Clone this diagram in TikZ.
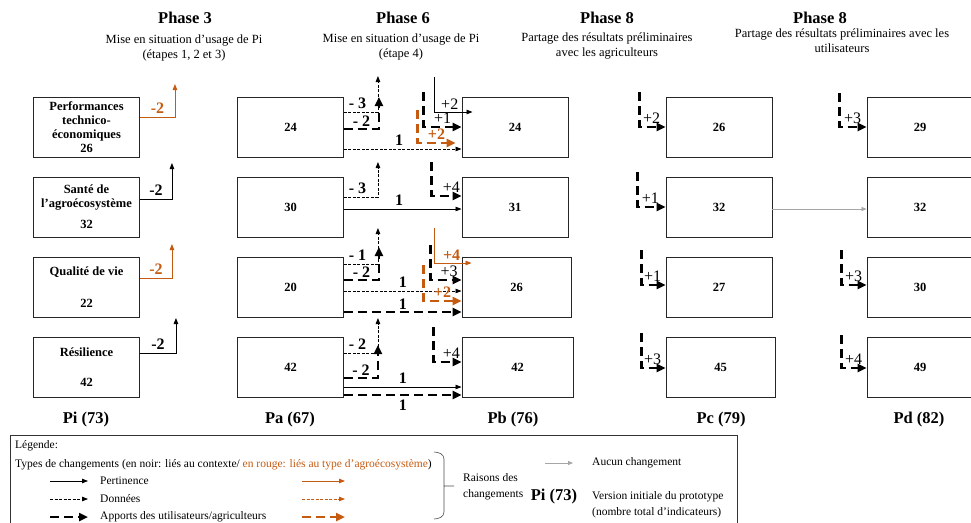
\documentclass[tikz,border=0pt]{standalone}
\usepackage{fontspec}
\setmainfont{Liberation Serif}
\usetikzlibrary{arrows.meta,positioning}
\definecolor{rougeAgro}{HTML}{C55A11}
\definecolor{grisAucun}{HTML}{A6A6A6}

\begin{document}
\begin{tikzpicture}[
  x=1pt,y=-1pt,
  indic/.style={draw=black!85,line width=0.9pt,minimum width=106pt,minimum height=60pt,inner sep=0pt,align=center,font=\fontsize{12.5}{14}\selectfont\bfseries},
  phase/.style={font=\fontsize{16.5}{19}\selectfont\bfseries},
  soustitre/.style={align=center,font=\fontsize{12.5}{15}\selectfont},
  version/.style={font=\fontsize{16.5}{19}\selectfont\bfseries},
  pert/.style={-{Triangle[length=6pt,width=4.5pt]},line width=0.8pt},
  donnees/.style={pert,dash pattern=on 3pt off 1.5pt},
  apport/.style={-{Triangle[length=9pt,width=8pt]},line width=2.8pt,dash pattern=on 9pt off 5pt},
  aucun/.style={-{Triangle[length=5pt,width=4pt]},line width=0.8pt,draw=grisAucun},
  moins/.style={font=\fontsize{16}{18}\selectfont\bfseries,inner sep=1pt,above=2pt},
  plus/.style={font=\fontsize{16}{18}\selectfont,inner sep=1pt,above=1pt},
  plusr/.style={plus,font=\fontsize{16}{18}\selectfont\bfseries},
  legende/.style={font=\fontsize{11.5}{16}\selectfont,anchor=west,inner sep=0pt}
]
\clip (0,0) rectangle (971,522);

% titres des phases
\node[phase] (ph3) at (185,18) {Phase 3};
\node[soustitre] (ph3t) at (184,48) {Mise en situation d’usage de Pi\\(étapes 1, 2 et 3)};
\node[phase] (ph6) at (403,18) {Phase 6};
\node[soustitre] (ph6t) at (401,47) {Mise en situation d’usage de Pi\\(étape 4)};
\node[phase] (ph8a) at (607,18) {Phase 8};
\node[soustitre] (ph8at) at (607,46) {Partage des résultats préliminaires\\avec les agriculteurs};
\node[phase] (ph8b) at (820,18) {Phase 8};
\node[soustitre] (ph8bt) at (842,41) {Partage des résultats préliminaires avec les\\utilisateurs};

% version initiale
\node[indic] (pi1) at (86.5,127) {Performances\\technico-\\économiques\\26};
\node[indic] (pi2) at (86.5,207) {Santé de\\l’agroécosystème\\[7pt]32};
\node[indic] (pi3) at (86.5,287) {Qualité de vie\\[18pt]22};
\node[indic] (pi4) at (86.5,367) {Résilience\\[16pt]42};

% versions Pa, Pb, Pc, Pd
\node[indic] (pa1) at (290.5,127) {24};
\node[indic] (pa2) at (290.5,207) {30};
\node[indic] (pa3) at (290.5,287) {20};
\node[indic] (pa4) at (290.5,367) {42};
\node[indic] (pb1) at (515,127) {24};
\node[indic] (pb2) at (515,207) {31};
\node[indic,minimum width=109pt] (pb3) at (516.5,287) {26};
\node[indic,minimum width=111pt] (pb4) at (517.5,367) {42};
\node[indic] (pc1) at (719,127) {26};
\node[indic] (pc2) at (719,207) {32};
\node[indic] (pc3) at (719,287) {27};
\node[indic,minimum width=109pt] (pc4) at (720.5,367) {45};
\node[indic] (pd1) at (920,127) {29};
\node[indic] (pd2) at (920,207) {32};
\node[indic] (pd3) at (920,287) {30};
\node[indic] (pd4) at (920,367) {49};

\node[version] (lpi) at (86,420) {Pi (73)};
\node[version] (lpa) at (290,420) {Pa (67)};
\node[version] (lpb) at (513,420) {Pb (76)};
\node[version] (lpc) at (721,420) {Pc (79)};
\node[version] (lpd) at (919,420) {Pd (82)};

% Pi -> Pa
\draw[pert,rougeAgro] ([yshift=10pt]pi1.east) -| ++(35,-33) node[moins,pos=0.25] {-2};
\draw[pert] ([yshift=8pt]pi2.east) -| ++(32,-36) node[moins,pos=0.25] {-2};
\draw[pert,rougeAgro] ([yshift=9pt]pi3.east) -| ++(32,-34) node[moins,pos=0.25] {-2};
\draw[pert] ([yshift=14pt]pi4.east) -| ++(36,-35) node[moins,pos=0.25] {-2};

% Pa -> Pb
\draw[donnees] ([yshift=15pt]pa1.east) -| ++(34,-36) node[moins,pos=0.2] {- 3};
\draw[apport] ([yshift=-2pt]pa1.east) -| ++(35,-32) node[moins,pos=0.25,above=0.5pt] {- 2};
\draw[donnees] ([yshift=-22pt]pa1.east) -- ([yshift=-22pt]pb1.west) node[moins,pos=0.47] {1};
\draw[pert] ([xshift=-27pt,yshift=50pt]pb1.west) |- ([xshift=11pt,yshift=15pt]pb1.west) node[plus,pos=0.7] {+2};
\draw[apport] ([xshift=-38pt,yshift=35pt]pb1.west) |- (pb1.west) node[plus,pos=0.75] {+1};
\draw[apport,rougeAgro] ([xshift=-44pt,yshift=17pt]pb1.west) |- ([xshift=-6pt,yshift=-16pt]pb1.west) node[plusr,pos=0.75] {+2};

\draw[donnees] ([yshift=10pt]pa2.east) -| ++(34,-35) node[moins,pos=0.2] {- 3};
\draw[pert] ([yshift=-2pt]pa2.east) -- ([yshift=-2pt]pb2.west) node[moins,pos=0.47] {1};
\draw[apport] ([xshift=-30pt,yshift=45pt]pb2.west) |- ([yshift=11pt]pb2.west) node[plus,pos=0.83] {+4};

\draw[donnees] ([yshift=23pt]pa3.east) -| ++(34,-36) node[moins,pos=0.2] {- 1};
\draw[apport] ([yshift=7pt]pa3.east) -| ++(35,-33) node[moins,pos=0.25,above=0.5pt] {- 2};
\draw[donnees] ([yshift=-4pt]pa3.east) -- ([yshift=-4pt]pb3.west) node[moins,pos=0.5] {1};
\draw[apport] ([yshift=-25pt]pa3.east) -- ([yshift=-25pt]pb3.west) node[moins,pos=0.5,above=0.5pt] {1};
\draw[pert,rougeAgro] ([xshift=-27pt,yshift=59pt]pb3.west) |- ([xshift=10pt,yshift=24pt]pb3.west) node[plusr,pos=0.73] {+4};
\draw[apport] ([xshift=-31pt,yshift=42pt]pb3.west) |- ([yshift=7pt]pb3.west) node[plus,pos=0.8] {+3};
\draw[apport,rougeAgro] ([xshift=-38pt,yshift=22pt]pb3.west) |- ([yshift=-14pt]pb3.west) node[plusr,pos=0.75] {+2};

\draw[donnees] ([yshift=14pt]pa4.east) -| ++(34,-35) node[moins,pos=0.2] {- 2};
\draw[apport] ([yshift=-11pt]pa4.east) -| ++(34,-33) node[moins,pos=0.25,above=0.5pt] {- 2};
\draw[pert] ([yshift=-20pt]pa4.east) -- ([yshift=-20pt]pb4.west) node[moins,pos=0.5] {1};
\draw[apport] ([yshift=-28pt]pa4.east) -- ([yshift=-28pt]pb4.west) node[moins,pos=0.5,below=3pt] {1};
\draw[apport] ([xshift=-28pt,yshift=40pt]pb4.west) |- ([yshift=5pt]pb4.west) node[plus,pos=0.82] {+4};

% Pb -> Pc
\draw[apport] ([xshift=-26pt,yshift=35pt]pc1.west) |- (pc1.west) node[plus,pos=0.73] {+2};
\draw[apport] ([xshift=-28pt,yshift=35pt]pc2.west) |- (pc2.west) node[plus,pos=0.73] {+1};
\draw[apport] ([xshift=-24pt,yshift=37pt]pc3.west) |- ([yshift=2pt]pc3.west) node[plus,pos=0.73] {+1};
\draw[apport] ([xshift=-24pt,yshift=34pt]pc4.west) |- ([yshift=-1pt]pc4.west) node[plus,pos=0.73] {+3};

% Pc -> Pd
\draw[apport] ([xshift=-27pt,yshift=34pt]pd1.west) |- (pd1.west) node[plus,pos=0.74] {+3};
\draw[aucun] ([yshift=-2pt]pc2.east) -- ([yshift=-2pt]pd2.west);
\draw[apport] ([xshift=-25pt,yshift=37pt]pd3.west) |- ([yshift=2pt]pd3.west) node[plus,pos=0.74] {+3};
\draw[apport] ([xshift=-25pt,yshift=32pt]pd4.west) |- ([yshift=-1pt]pd4.west) node[plus,pos=0.74] {+4};

% legende
\draw[line width=0.9pt,draw=black!80] (10,435) rectangle (737,530);
\node[legende] (lgTitre) at (15,446) {Légende:};
\node[legende] (lgTypes) at (15,465) {Types de changements (en noir: liés au contexte/ \textcolor{rougeAgro}{en rouge: liés au type d’agroécosystème})};
\node[legende] (lgPert) at (100,481) {Pertinence};
\node[legende] (lgDon) at (100,499) {Données};
\node[legende] (lgApp) at (100,517) {Apports des utilisateurs/agriculteurs};
\draw[pert] ([xshift=-50pt]lgPert.west) -- ([xshift=-12pt]lgPert.west);
\draw[donnees] ([xshift=-50pt]lgDon.west) -- ([xshift=-12pt]lgDon.west);
\draw[apport] ([xshift=-50pt]lgApp.west) -- ([xshift=-12pt]lgApp.west);
\draw[pert,rougeAgro] ([xshift=202pt]lgPert.west) -- ([xshift=245pt]lgPert.west);
\draw[donnees,rougeAgro] ([xshift=202pt]lgDon.west) -- ([xshift=245pt]lgDon.west);
\draw[apport,rougeAgro] ([xshift=202pt]lgApp.west) -- ([xshift=245pt]lgApp.west);
\draw[line width=0.6pt,black!70] (434,452) to[out=0,in=90] (444,459) -- (444,512) to[out=-90,in=0] (434,519) (444,486) -- (454,486);
\node[legende,align=left] (lgRaisons) at (463,487) {Raisons des\\changements};
\node[legende] (lgAucun) at (592,463) {Aucun changement};
\draw[aucun] ([xshift=-47pt]lgAucun.west) -- ([xshift=-19pt]lgAucun.west);
\node[version] (lgPi) at (554,497) {Pi (73)};
\node[legende,align=left] (lgVers) at (592,505) {Version initiale du prototype\\(nombre total d’indicateurs)};
\end{tikzpicture}
\end{document}
